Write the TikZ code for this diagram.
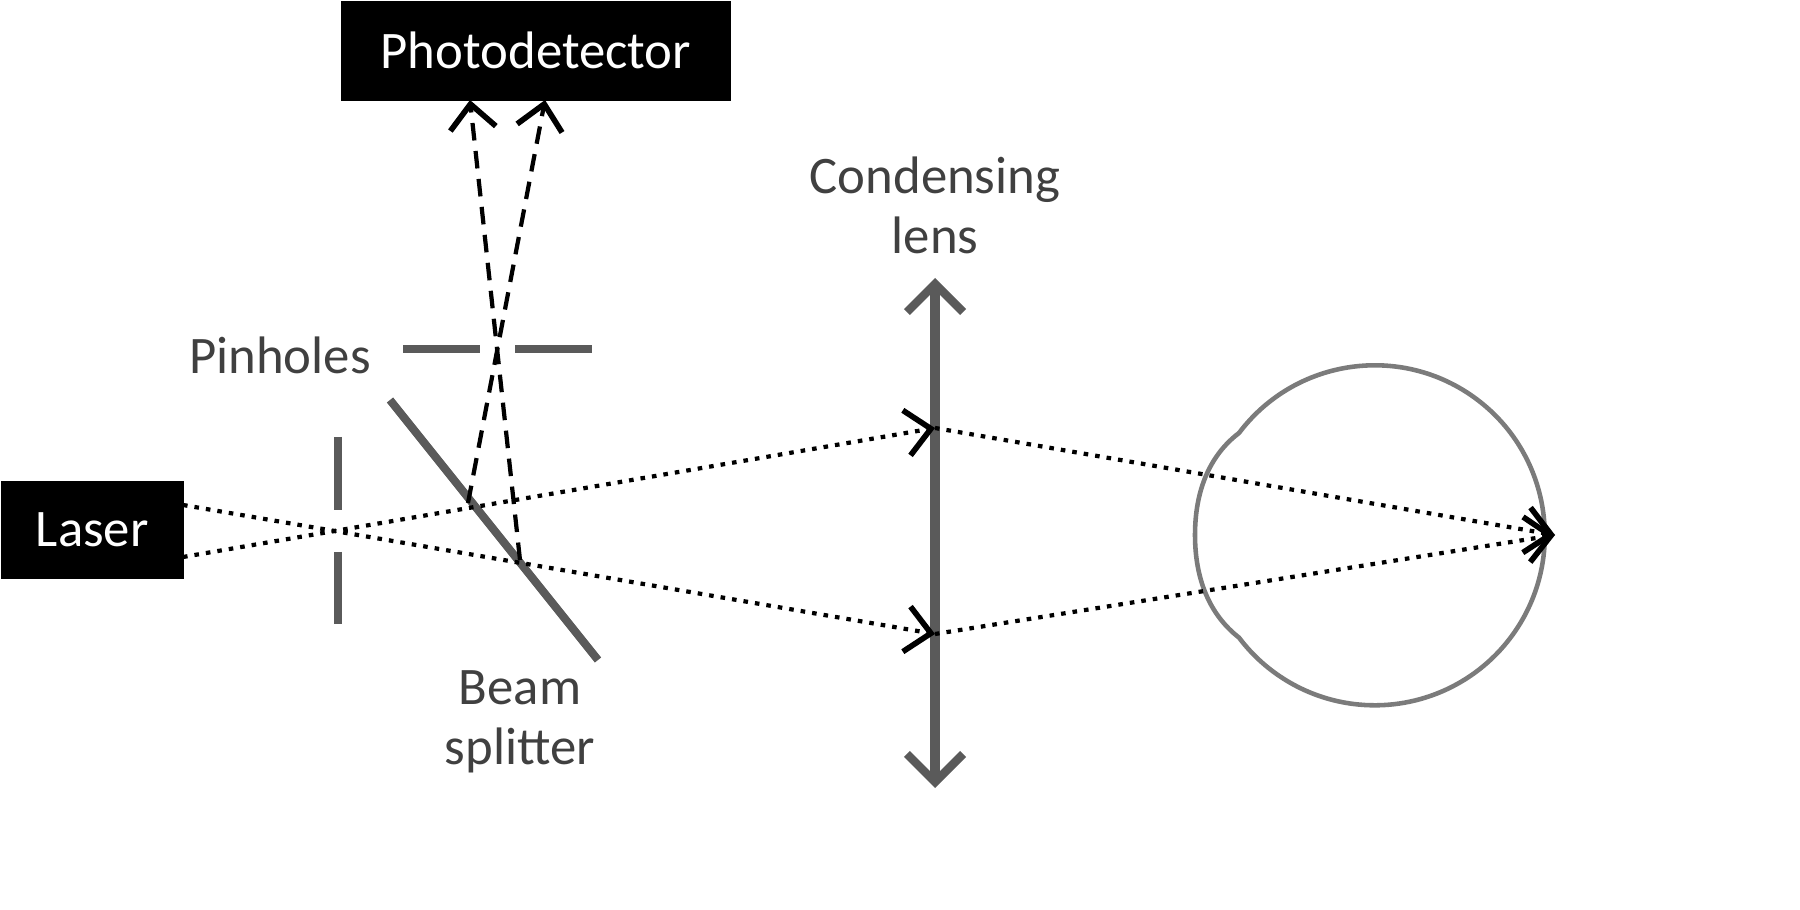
\documentclass[tikz,border=0pt]{standalone}
\usepackage{fontspec}
\setmainfont{Carlito}
\usetikzlibrary{arrows.meta}
\definecolor{gr}{HTML}{5A5A5A}
\definecolor{tx}{HTML}{404040}
\begin{document}
\begin{tikzpicture}[x=0.01cm,y=-0.01cm,
  box/.style={fill=black,text=white,font=\fontsize{15}{18}\selectfont,inner sep=0pt,anchor=north west},
  lab/.style={text=tx,font=\fontsize{15}{17}\selectfont,align=center},
  optic/.style={gr,line width=2.3pt},
  beam/.style={line width=1.2pt,dash pattern=on 1.3pt off 2pt},
  dbeam/.style={line width=1.2pt,dash pattern=on 5pt off 3pt},
  tip/.style={-{Straight Barb[length=7pt,width=13pt,line width=1.6pt]}}]
\useasboundingbox (0,0) rectangle (1800,910);
% boxes
\node[box,minimum width=3.9cm,minimum height=1cm] (pd) at (340,0) {Photodetector};
\node[box,minimum width=1.83cm,minimum height=0.98cm] (laser) at (0,480) {Laser};
% labels
\node[lab] (lpin) at (280,355) {Pinholes};
\node[lab] (llens) at (935,205) {Condensing\\lens};
\node[lab] (lbs) at (520,722) {Beam\\splitter};
% pinholes
\draw[optic] (338,437) -- (338,510);
\draw[optic] (338,552) -- (338,624);
\draw[optic] (403,349) -- (480,349);
\draw[optic] (515,349) -- (592,349);
% beam splitter
\draw[optic] (390,400) -- (598,660);
% lens
\draw[gr,line width=2.6pt,{Straight Barb[length=8pt,width=16pt,line width=2.4pt]}-{Straight Barb[length=8pt,width=16pt,line width=2.4pt]}] (935,278) -- (935,788);
% coordinates
\coordinate (la) at (183,505);
\coordinate (lb) at (183,557);
\coordinate (ltop) at (935,428);
\coordinate (lbot) at (935,634);
\coordinate (focus) at (1555,535);
\coordinate (s1) at (468,503);
\coordinate (s2) at (520,560);
\coordinate (d1) at (545,100);
\coordinate (d2) at (470,100);
% eye
\draw[gr!80,line width=1.3pt] (1239,433)
  arc[start angle=-143,end angle=143,radius=170]
  .. controls (1210,615) and (1195,580) .. (1195,535)
  .. controls (1195,490) and (1210,455) .. (1239,433) -- cycle;
% beams
\draw[beam,tip] (la) -- (lbot);
\draw[beam,tip] (lb) -- (ltop);
\draw[beam,tip] (ltop) -- (focus);
\draw[beam,tip] (lbot) -- (focus);
\draw[dbeam,tip] (s1) -- (d1);
\draw[dbeam,tip] (s2) -- (d2);
\end{tikzpicture}
\end{document}
